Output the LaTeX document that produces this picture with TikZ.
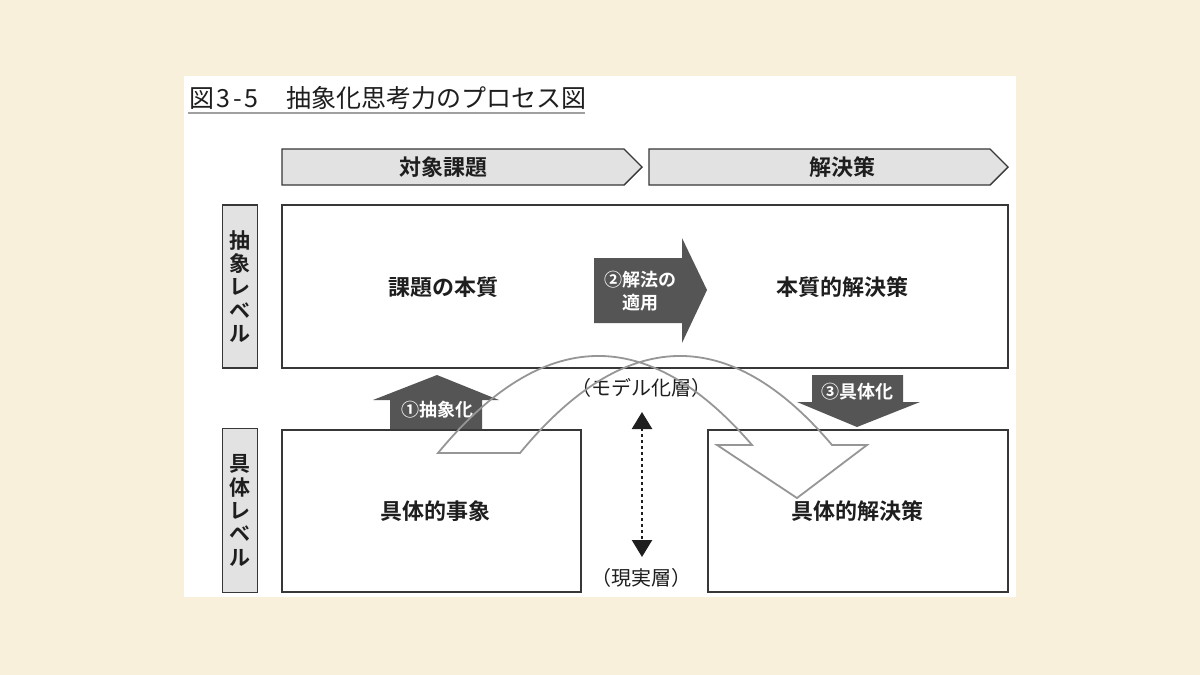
\documentclass[tikz,border=0pt]{standalone}
\usepackage{fontspec}
\usepackage{xcolor}
\usepackage{tikz}
\usetikzlibrary{arrows.meta, positioning, calc}
\newfontfamily\jpfont{Noto Sans CJK JP}[BoldFont={Noto Sans CJK JP Bold}]
\definecolor{cream}{RGB}{249,240,220}
\definecolor{shade}{RGB}{226,226,226}
\definecolor{edge}{RGB}{55,55,55}
\definecolor{dark}{RGB}{85,85,85}
\definecolor{ink}{RGB}{30,30,30}
\definecolor{curve}{RGB}{150,150,150}

\begin{document}
\begin{tikzpicture}[
    x=1pt, y=-1pt,
    panel/.style={draw=edge, line width=1.8pt, fill=white, inner sep=0pt},
    levelbox/.style={draw=edge, line width=1.6pt, fill=shade, minimum width=35pt, inner sep=0pt,
        align=center, font=\jpfont\bfseries\fontsize{21}{23.3}\selectfont, text=ink},
    header/.style={draw=edge, line width=1.4pt, fill=shade},
    maintext/.style={font=\jpfont\bfseries\fontsize{22}{26}\selectfont, text=ink, inner sep=0pt},
    layertext/.style={font=\jpfont\fontsize{20}{24}\selectfont, text=ink, inner sep=0pt},
    arrowtext/.style={font=\jpfont\bfseries\fontsize{18}{22.5}\selectfont, text=white, align=center, inner sep=0pt},
    blockarrow/.style={fill=dark},
    outline/.style={draw=curve, line width=1.8pt, line join=miter}
]
    \useasboundingbox (0,0) rectangle (1200,675);
    \fill[cream] (0,0) rectangle (1200,675);
    \fill[white] (184,76) rectangle (1016,597);

    % title
    \node[anchor=west, font=\jpfont\fontsize{25}{30}\selectfont, text=ink, inner sep=0pt] (title) at (189,98)
        {図\kern2pt 3\kern3pt-\kern3pt5\hspace{3pt}　抽象化思考力のプロセス図};
    \draw[curve!90, line width=2pt] (188,113) -- (585,113);

    % column headers
    \draw[header] (282,149) -- (624,149) -- (642,167) -- (624,185) -- (282,185) -- cycle;
    \draw[header] (649,149) -- (990,149) -- (1008,167) -- (990,185) -- (649,185) -- cycle;
    \node[maintext] (problem) at (443,167) {対象課題};
    \node[maintext] (solution) at (842,167) {解決策};

    % levels
    \node[levelbox, minimum height=163pt] (abslevel) at (240,286.5) {抽\\象\\レ\\ベ\\ル};
    \node[levelbox, minimum height=164pt] (conlevel) at (240,510.5) {具\\体\\レ\\ベ\\ル};

    \node[panel, minimum width=726pt, minimum height=163pt] (upper) at (645,286.5) {};
    \node[panel, minimum width=299pt, minimum height=162pt] (event) at (431.5,511) {};
    \node[panel, minimum width=300pt, minimum height=162pt] (result) at (858,511) {};

    \node[maintext] (essence) at (443,287) {課題の本質};
    \node[maintext] (esssol) at (842,287) {本質的解決策};
    \node[maintext] (conevent) at (435,511) {具体的事象};
    \node[maintext] (consol) at (857,511) {具体的解決策};

    % block arrows
    \fill[blockarrow] (390,429) -- (390,400) -- (373,400) -- (437,375) -- (499,400) -- (482,400) -- (482,429) -- cycle;
    \fill[blockarrow] (594,258) -- (682,258) -- (682,238) -- (707,290) -- (682,343) -- (682,323) -- (594,323) -- cycle;
    \fill[blockarrow] (812,375) -- (903,375) -- (903,402) -- (920,402) -- (857,427) -- (797,402) -- (812,402) -- cycle;
    \node[arrowtext] (step1) at (437,410) {①抽象化};
    \node[arrowtext] (step2) at (640,291) {②解法の\\適用};
    \node[arrowtext] (step3) at (857,392) {③具体化};

    % layers
    \node[layertext] (model) at (641,388) {（モデル化層）};
    \node[layertext] (real) at (641,578) {（現実層）};
    \coordinate (modeltop) at (642,412);
    \coordinate (realbot) at (642,557);
    \draw[ink, line width=2.4pt, dash pattern=on 3pt off 3pt,
        {Triangle[length=17pt,width=20pt]}-{Triangle[length=17pt,width=20pt]}] (modeltop) -- (realbot);

    % curved outline arrow
    \draw[outline] (438,453) .. controls (542.7,326.3) and (647.3,323.7) .. (752,445)
        -- (717,445) -- (797,498) -- (867,445) -- (832,445)
        .. controls (729.3,323.7) and (624.7,326.3) .. (520,453) -- cycle;
\end{tikzpicture}
\end{document}
